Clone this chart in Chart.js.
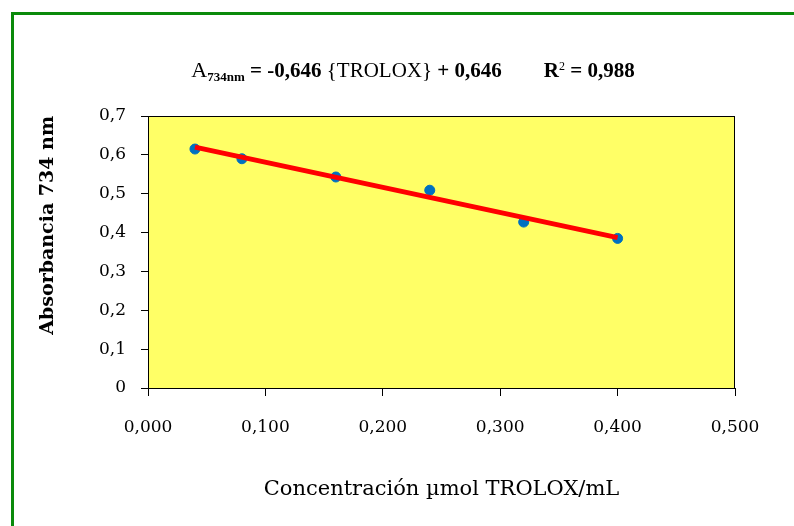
<!DOCTYPE html>
<html>
<head>
<meta charset="utf-8">
<script src="https://cdn.jsdelivr.net/npm/chart.js@4/dist/chart.umd.min.js"></script>
<style>
  body { margin: 0; background: #fff; }
  #wrap { position: relative; width: 794px; height: 526px; overflow: hidden; }
  #frame { position: absolute; left: 11px; top: 12px; width: 900px; height: 600px;
           border-left: 3px solid #0a8a0a; border-top: 3px solid #0a8a0a; }
  canvas { position: absolute; left: 0; top: 0; }
</style>
</head>
<body>
<div id="wrap">
  <div id="frame"></div>
  <canvas id="trolox" width="794" height="526"></canvas>
</div>
<script>
// Measured points (concentration, absorbance)
const concX = [0.04, 0.08, 0.16, 0.24, 0.32, 0.40];
const absY = [0.615, 0.590, 0.543, 0.509, 0.427, 0.385];

// Linear fit shown on the chart, ends of the red line
const fitX = [0.04, 0.40];
const fitY = [0.620, 0.387];

const xTicks = [0, 0.1, 0.2, 0.3, 0.4, 0.5];
const yTicks = [0, 0.1, 0.2, 0.3, 0.4, 0.5, 0.6, 0.7];

const serif = "'DejaVu Serif', serif";

// yellow plot area + black box
const plotBox = {
  id: "plotBox",
  beforeDatasetsDraw(chart) {
    const { ctx, chartArea: a } = chart;
    ctx.save();
    ctx.fillStyle = "#ffff66";
    ctx.fillRect(a.left, a.top, a.right - a.left, a.bottom - a.top);
    ctx.restore();
  },
  afterDraw(chart) {
    const { ctx, chartArea: a } = chart;
    ctx.save();
    ctx.strokeStyle = "#000";
    ctx.lineWidth = 1;
    ctx.strokeRect(a.left + 0.5, a.top + 0.5, a.right - a.left - 1, a.bottom - a.top);
    ctx.restore();
  }
};

// equation title with sub/superscript
const equation = {
  id: "equation",
  afterDraw(chart) {
    const ctx = chart.ctx;
    const parts = [
      ["A", "22px 'Liberation Serif'", 0],
      ["734nm", "bold 13px 'Liberation Serif'", 4],
      [" = -0,646 ", "bold 21px 'Liberation Serif'", 0],
      ["{TROLOX}", "21px 'Liberation Serif'", 0],
      [" + 0,646", "bold 21px 'Liberation Serif'", 0],
      ["        R", "bold 21px 'Liberation Serif'", 0],
      ["2", "12px 'Liberation Serif'", -7],
      [" = 0,988", "bold 21px 'Liberation Serif'", 0]
    ];
    ctx.save();
    let w = 0;
    parts.forEach(p => { ctx.font = p[1]; w += ctx.measureText(p[0]).width; });
    let x = 413 - w / 2;
    const y = 77;
    ctx.fillStyle = "#000";
    ctx.textBaseline = "alphabetic";
    parts.forEach(p => {
      ctx.font = p[1];
      ctx.fillText(p[0], x, y + p[2]);
      x += ctx.measureText(p[0]).width;
    });
    ctx.restore();
  }
};

new Chart(document.getElementById("trolox"), {
  type: "scatter",
  data: {
    datasets: [
      {
        label: "Ajuste",
        data: fitX.map((x, i) => ({ x: x, y: fitY[i] })),
        showLine: true,
        borderColor: "#ff0000",
        borderWidth: 5,
        pointRadius: 0,
        fill: false
      },
      {
        label: "Absorbancia",
        data: concX.map((x, i) => ({ x: x, y: absY[i] })),
        backgroundColor: "#0070c0",
        borderColor: "#0070c0",
        pointRadius: 5
      }
    ]
  },
  options: {
    responsive: false,
    animation: false,
    clip: false,
    layout: { padding: { left: 0, right: 59, top: 116, bottom: 0 } },
    plugins: { legend: { display: false }, tooltip: { enabled: false } },
    scales: {
      x: {
        type: "linear",
        min: 0,
        max: 0.5,
        afterFit(scale) { scale.height = 138; },
        afterBuildTicks(scale) { scale.ticks = xTicks.map(v => ({ value: v })); },
        ticks: {
          color: "#000",
          font: { family: serif, size: 17 },
          padding: 21,
          maxRotation: 0,
          callback: v => v.toFixed(3).replace(".", ",")
        },
        grid: { drawOnChartArea: false, tickLength: 8, color: "#000" },
        border: { color: "#000" },
        title: {
          display: true,
          text: "Concentración µmol TROLOX/mL",
          color: "#000",
          font: { family: serif, size: 21 },
          padding: { top: 0, bottom: 24 }
        }
      },
      y: {
        type: "linear",
        min: 0,
        max: 0.7,
        afterFit(scale) { scale.width = 148; },
        afterBuildTicks(scale) { scale.ticks = yTicks.map(v => ({ value: v })); },
        ticks: {
          color: "#000",
          font: { family: serif, size: 17 },
          padding: 15,
          callback: v => v === 0 ? "0" : v.toFixed(1).replace(".", ",")
        },
        grid: { drawOnChartArea: false, tickLength: 7, color: "#000" },
        border: { color: "#000" },
        title: {
          display: true,
          text: "Absorbancia 734 nm",
          align: "end",
          color: "#000",
          font: { family: serif, size: 19, weight: "bold" },
          padding: { top: 37, bottom: 0 }
        }
      }
    }
  },
  plugins: [plotBox, equation]
});
</script>
</body>
</html>
